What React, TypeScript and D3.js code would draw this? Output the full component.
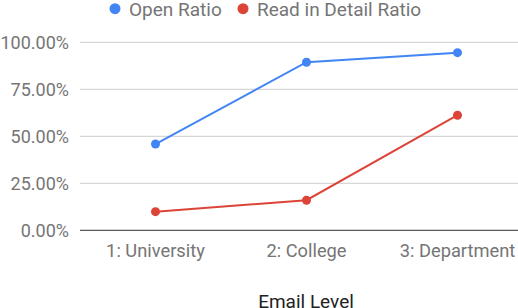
import React from "react";
import * as d3 from "d3";

const categories = ["1: University", "2: College", "3: Department"];
const openRatio = [0.459, 0.894, 0.945];
const readRatio = [0.099, 0.16, 0.612];
const yTicks = [0, 0.25, 0.5, 0.75, 1];
const seriesNames = ["Open Ratio", "Read in Detail Ratio"];
const colors = ["#4285f4", "#db4437"];

export default function App() {
  const W = 518, H = 308;
  const x = d3.scaleBand<string>().domain(categories).range([80, 533]);
  const y = d3.scaleLinear().domain([0, 1]).range([230.3, 42.3]);
  const line = d3
    .line<number>()
    .x((_, i) => (x(categories[i]) as number) + x.bandwidth() / 2)
    .y((d) => y(d));
  const fmt = d3.format(".2%");
  const series = [openRatio, readRatio];
  const font = "Roboto, sans-serif";
  return (
    <svg
      width={W}
      height={H}
      style={{ position: "absolute", left: 0, top: 0, background: "#fff" }}
      fontFamily={font}
    >
      {yTicks.map((t) => (
        <g key={t}>
          {t > 0 && (
            <line x1={80} x2={W} y1={y(t)} y2={y(t)} stroke="#cccccc" strokeWidth={1} />
          )}
          <text x={69} y={y(t) + 6.5} textAnchor="end" fontSize={18} fill="#757575">
            {fmt(t)}
          </text>
        </g>
      ))}
      <line x1={80} x2={W} y1={y(0)} y2={y(0)} stroke="#333333" strokeWidth={1} />
      {categories.map((c) => (
        <text
          key={c}
          x={(x(c) as number) + x.bandwidth() / 2}
          y={256.5}
          textAnchor="middle"
          fontSize={18.3}
          fill="#757575"
        >
          {c}
        </text>
      ))}
      <text x={306} y={308} textAnchor="middle" fontSize={19} fill="#222">
        Email Level
      </text>
      {series.map((s, si) => (
        <g key={si}>
          <path d={line(s) as string} fill="none" stroke={colors[si]} strokeWidth={2} />
          {s.map((v, i) => (
            <circle
              key={i}
              cx={(x(categories[i]) as number) + x.bandwidth() / 2}
              cy={y(v)}
              r={4.5}
              fill={colors[si]}
            />
          ))}
        </g>
      ))}
      <g>
        <circle cx={115} cy={8.7} r={5.5} fill={colors[0]} />
        <text x={129} y={15.5} fontSize={19} fill="#757575">
          {seriesNames[0]}
        </text>
        <circle cx={243} cy={8.7} r={5.5} fill={colors[1]} />
        <text x={257} y={15.5} fontSize={19} fill="#757575">
          {seriesNames[1]}
        </text>
      </g>
    </svg>
  );
}
